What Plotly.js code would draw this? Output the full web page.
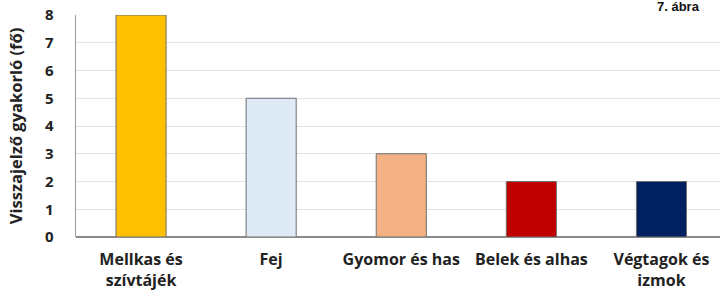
<!DOCTYPE html>
<html><head><meta charset="utf-8">
<script src="https://cdn.plot.ly/plotly-3.0.1.min.js"></script>
<style>html,body{margin:0;padding:0;background:#fff;}#c{width:720px;height:297px;}</style>
</head><body><div id="c"></div>
<script>
const categories = ["Mellkas és<br>szívtájék", "Fej", "Gyomor és has", "Belek és alhas", "Végtagok és<br>izmok"];
const values = [8, 5, 3, 2, 2];
const barColors = ["#FFC000", "#DEEBF7", "#F4B183", "#C00000", "#002060"];
const yTicks = [0, 1, 2, 3, 4, 5, 6, 7, 8];

const font = "Open Sans, Liberation Sans, Arial, sans-serif";
Plotly.newPlot("c", [{
  type: "bar",
  x: categories.map((_, i) => i),
  y: values,
  width: 0.385,
  marker: {color: barColors, line: {color: "#6f6f6f", width: 1}},
  hoverinfo: "none"
}], {
  width: 720, height: 297,
  margin: {l: 76, r: 0, t: 15, b: 60},
  paper_bgcolor: "#fff", plot_bgcolor: "#fff",
  showlegend: false,
  bargap: 0,
  xaxis: {
    range: [-0.5, 4.45],
    tickmode: "array", tickvals: categories.map((_, i) => i), ticktext: categories,
    tickfont: {family: font, size: 16, color: "#222", weight: "bold"},
    showgrid: false, zeroline: false, showline: false, ticks: "", ticklen: 0,
    ticklabelstandoff: 11
  },
  yaxis: {
    range: [0, 8],
    tickmode: "array", tickvals: yTicks, ticktext: yTicks.map(String),
    tickfont: {family: font, size: 15, color: "#222", weight: "bold"},
    showgrid: true, gridcolor: "#e3e3e3", gridwidth: 1,
    zeroline: true, zerolinecolor: "#8a8a8a", zerolinewidth: 1.5,
    showline: true, linecolor: "#9a9a9a", linewidth: 1.5,
    ticks: "", ticklabelstandoff: 18,
    title: {text: "Visszajelző gyakorló (fő)", font: {family: font, size: 16.5, color: "#222", weight: "bold"}, standoff: 18}
  },
  annotations: [{
    text: "7. ábra", xref: "paper", yref: "paper", x: 0.97, y: 1.0,
    xanchor: "right", yanchor: "bottom", showarrow: false, borderpad: 0,
    font: {family: "Liberation Sans, Arial, sans-serif", size: 13, color: "#111", weight: "bold"}
  }]
}, {staticPlot: true});
</script></body></html>
